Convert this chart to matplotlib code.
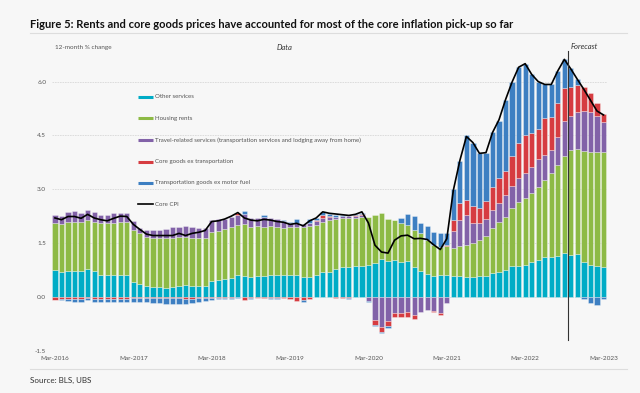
import numpy as np
import matplotlib.pyplot as plt
from matplotlib.lines import Line2D

plt.rcParams['font.family'] = ['Lato', 'DejaVu Sans']

# Mar-2016 .. Mar-2023, monthly (85 bars); data to Sep-2022, forecast after
xtick_labels = ["Mar-2016", "Mar-2017", "Mar-2018", "Mar-2019",
                "Mar-2020", "Mar-2021", "Mar-2022", "Mar-2023"]

other_services = [
    0.74, 0.70, 0.72, 0.73, 0.73, 0.78, 0.71, 0.61, 0.61, 0.62, 0.61, 0.61,
    0.42, 0.35, 0.30, 0.27, 0.27, 0.26, 0.27, 0.31, 0.33, 0.31, 0.31, 0.31,
    0.44, 0.46, 0.49, 0.53, 0.60, 0.59, 0.55, 0.57, 0.57, 0.60, 0.60, 0.60,
    0.60, 0.61, 0.56, 0.56, 0.61, 0.70, 0.68, 0.78, 0.84, 0.84, 0.87, 0.87,
    0.88, 0.94, 1.06, 1.00, 1.02, 0.96, 0.99, 0.83, 0.73, 0.65, 0.58, 0.61,
    0.61, 0.58, 0.57, 0.56, 0.56, 0.57, 0.58, 0.66, 0.70, 0.75, 0.86, 0.86,
    0.89, 0.96, 1.03, 1.12, 1.12, 1.14, 1.23, 1.17, 1.20, 0.98, 0.89, 0.86,
    0.82]
housing_rents = [
    1.31, 1.32, 1.36, 1.36, 1.37, 1.36, 1.38, 1.44, 1.44, 1.45, 1.47, 1.47,
    1.45, 1.42, 1.38, 1.38, 1.37, 1.37, 1.38, 1.35, 1.33, 1.34, 1.34, 1.33,
    1.38, 1.38, 1.40, 1.42, 1.40, 1.43, 1.41, 1.40, 1.38, 1.37, 1.36, 1.33,
    1.35, 1.35, 1.40, 1.41, 1.39, 1.40, 1.46, 1.40, 1.36, 1.36, 1.33, 1.35,
    1.34, 1.34, 1.27, 1.16, 1.13, 1.11, 1.01, 1.03, 1.04, 0.93, 0.86, 0.79,
    0.81, 0.78, 0.85, 0.88, 0.95, 1.01, 1.11, 1.25, 1.38, 1.49, 1.61, 1.79,
    1.86, 1.93, 2.04, 2.13, 2.32, 2.54, 2.70, 2.93, 2.92, 3.09, 3.16, 3.19,
    3.23]
travel_services = [
    0.23, 0.24, 0.28, 0.29, 0.23, 0.28, 0.28, 0.23, 0.23, 0.26, 0.25, 0.25,
    0.25, 0.16, 0.17, 0.20, 0.22, 0.27, 0.30, 0.30, 0.32, 0.29, 0.28, 0.28,
    0.33, 0.32, 0.29, 0.29, 0.28, 0.28, 0.24, 0.23, 0.27, 0.23, 0.21, 0.19,
    0.10, 0.10, 0.08, 0.10, 0.12, 0.10, 0.08, 0.06, 0.06, 0.05, 0.05, 0.06,
    -0.12, -0.64, -0.85, -0.68, -0.45, -0.45, -0.42, -0.50, -0.42, -0.36, -0.38, -0.45,
    -0.18, 0.47, 0.73, 0.84, 0.54, 0.47, 0.47, 0.51, 0.54, 0.61, 0.63, 0.65,
    0.70, 0.73, 0.76, 0.70, 0.66, 0.77, 0.97, 0.94, 1.04, 1.12, 1.11, 0.99,
    0.81]
core_goods = [
    -0.08, -0.06, -0.05, -0.05, -0.05, -0.04, -0.05, -0.05, -0.06, -0.07, -0.05, -0.05,
    -0.03, -0.03, -0.03, -0.02, -0.02, -0.03, -0.03, -0.03, -0.06, -0.06, -0.03, -0.03,
    -0.02, -0.03, -0.03, -0.02, 0.05, -0.08, -0.03, -0.02, -0.02, -0.03, -0.02, -0.03,
    -0.05, -0.12, -0.10, -0.06, 0.03, 0.08, 0.04, -0.02, -0.02, -0.02, 0.02, 0.02,
    0.00, -0.14, -0.12, -0.12, -0.12, -0.10, -0.14, -0.12, 0.00, 0.00, -0.05, -0.05,
    0.03, 0.31, 0.48, 0.43, 0.47, 0.42, 0.52, 0.65, 0.68, 0.65, 0.82, 0.98,
    1.05, 0.94, 0.85, 1.03, 0.92, 0.94, 0.91, 0.82, 0.74, 0.67, 0.51, 0.37,
    0.24]
transport_goods = [
    -0.01, -0.04, -0.07, -0.08, -0.09, -0.05, -0.08, -0.08, -0.09, -0.07, -0.08, -0.08,
    -0.10, -0.12, -0.10, -0.14, -0.14, -0.16, -0.17, -0.16, -0.14, -0.10, -0.10, -0.08,
    -0.06, -0.04, -0.04, -0.03, -0.02, 0.10, -0.03, -0.02, 0.07, -0.03, -0.03, 0.03,
    0.05, 0.12, -0.03, 0.10, 0.06, 0.09, 0.04, 0.04, 0.03, -0.04, 0.03, 0.05,
    -0.03, -0.04, -0.05, -0.08, 0.00, 0.12, 0.32, 0.40, 0.30, 0.40, 0.37, 0.39,
    0.33, 0.86, 1.17, 1.79, 1.78, 1.53, 1.32, 1.53, 1.60, 2.00, 2.08, 2.12,
    2.00, 1.64, 1.32, 0.94, 0.90, 0.91, 0.81, 0.51, 0.16, -0.06, -0.17, -0.22,
    -0.05]
core_cpi = [
    2.20, 2.15, 2.24, 2.24, 2.19, 2.30, 2.20, 2.15, 2.12, 2.19, 2.25, 2.24,
    2.02, 1.88, 1.75, 1.71, 1.71, 1.71, 1.71, 1.77, 1.71, 1.77, 1.80, 1.85,
    2.10, 2.12, 2.17, 2.25, 2.35, 2.20, 2.14, 2.12, 2.16, 2.14, 2.10, 2.08,
    2.02, 2.05, 1.98, 2.12, 2.20, 2.37, 2.33, 2.31, 2.29, 2.27, 2.30, 2.37,
    2.06, 1.44, 1.25, 1.22, 1.58, 1.70, 1.72, 1.62, 1.63, 1.60, 1.45, 1.32,
    1.62, 2.97, 3.80, 4.47, 4.30, 4.00, 4.02, 4.58, 4.94, 5.50, 5.99, 6.40,
    6.50, 6.20, 6.00, 5.92, 5.92, 6.30, 6.62, 6.35, 6.06, 5.78, 5.48, 5.18,
    5.07]

series = [
    ("Other services", other_services, "#00acc6"),
    ("Housing rents", housing_rents, "#8dba45"),
    ("Travel-related services (transportation services and lodging away from home)",
     travel_services, "#8262a8"),
    ("Core goods ex transportation", core_goods, "#d63c41"),
    ("Transportation goods ex motor fuel", transport_goods, "#3d7fc2"),
]

W, H = 640, 393
fig = plt.figure(figsize=(W / 100, H / 100), dpi=100, facecolor="#f7f7f7")
ax = fig.add_axes([51.7 / W, 1 - 350.7 / H, 555.1 / W, 301.4 / H], facecolor="#f7f7f7")

x = np.arange(len(core_cpi))
pos_base = np.zeros(len(x))
neg_base = np.zeros(len(x))
for name, vals, color in series:
    v = np.array(vals)
    bottom = np.where(v >= 0, pos_base, neg_base)
    ax.bar(x, v, bottom=bottom, width=0.8, color=color,
           edgecolor=(1, 1, 1, 0.55), linewidth=0.4, zorder=2)
    pos_base = pos_base + np.clip(v, 0, None)
    neg_base = neg_base + np.clip(v, None, 0)

ax.plot(x, core_cpi, color="black", lw=1.2, zorder=4)

# forecast divider
ax.plot([78.5, 78.5], [-1.2, 6.86], color="#333333", lw=0.8, zorder=5)
ax.text(78.9, 6.88, "Forecast", fontsize=5.5, style="italic", color="#333333",
        ha="left", va="bottom")

ax.set_xlim(-0.5, 84.5)
ax.set_ylim(-1.5, 6.9)
ax.set_yticks([-1.5, 0, 1.5, 3.0, 4.5, 6.0])
ax.set_yticklabels([f"{t:.1f}" for t in [-1.5, 0, 1.5, 3.0, 4.5, 6.0]])
ax.set_xticks(np.arange(0, 85, 12))
ax.set_xticklabels(xtick_labels)
ax.tick_params(axis="both", length=0, labelsize=4.6, colors="#555555")
ax.tick_params(axis="y", pad=4)
ax.tick_params(axis="x", pad=4)
ax.grid(axis="y", color="#d9d9d9", lw=0.6, ls=(0, (2, 1)), zorder=0)
for s in ax.spines.values():
    s.set_visible(False)

# header and footer
fig.text(30 / W, 1 - 24 / H, "Figure 5: Rents and core goods prices have accounted for most "
         "of the core inflation pick-up so far", fontsize=8, fontweight="bold",
         color="#111111", va="center", ha="left")
fig.add_artist(Line2D([30 / W, 627 / W], [1 - 33 / H, 1 - 33 / H], color="#dddddd", lw=0.8))
fig.add_artist(Line2D([30 / W, 627 / W], [1 - 369 / H, 1 - 369 / H], color="#dddddd", lw=0.8))
fig.text(55 / W, 1 - 47 / H, "12-month % change", fontsize=4.6, color="#555555", va="center")
fig.text(285 / W, 1 - 48 / H, "Data", fontsize=5.5, style="italic", color="#333333",
         va="center", ha="center")
fig.text(30 / W, 1 - 380 / H, "Source: BLS, UBS", fontsize=5.8, color="#333333", va="center")

# legend
rows = [96.7, 118.3, 140.0, 161.7, 182.7]
for (name, vals, color), yy in zip(series, rows):
    fig.add_artist(Line2D([138 / W, 153 / W], [1 - yy / H] * 2, color=color, lw=2.2,
                          solid_capstyle="butt"))
    fig.text(155 / W, 1 - yy / H, name, fontsize=4.4, color="#555555", va="center")
fig.add_artist(Line2D([138 / W, 153 / W], [1 - 204.3 / H] * 2, color="black", lw=1.2))
fig.text(155 / W, 1 - 204.3 / H, "Core CPI", fontsize=4.4, color="#555555", va="center")

fig.savefig("out.png", dpi=100, facecolor=fig.get_facecolor())
